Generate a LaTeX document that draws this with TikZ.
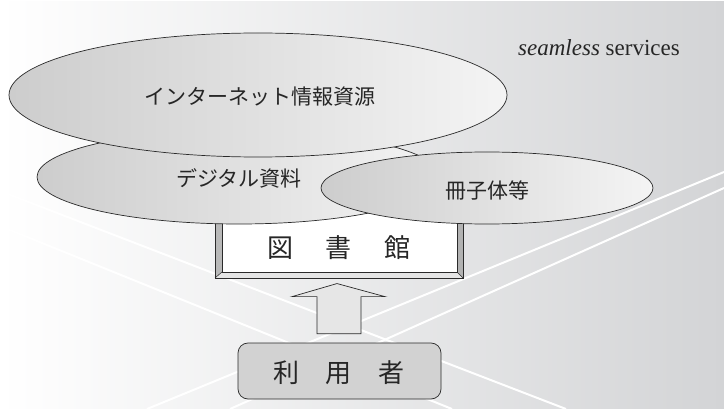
\documentclass[tikz,border=0pt]{standalone}
\usepackage{fontspec}
\setmainfont{Liberation Serif}
\newfontfamily\jpfont{Noto Sans CJK JP}
\usetikzlibrary{shapes.geometric,calc}
\definecolor{bgR}{HTML}{D3D4D6}
\definecolor{ellL}{HTML}{CDCDCD}
\definecolor{ellR}{HTML}{F4F4F4}
\definecolor{edge}{HTML}{2A2A2A}
\definecolor{userfill}{HTML}{D2D2D2}
\definecolor{arrowfill}{HTML}{E6E6E6}
\tikzset{
  bgline/.style={white, line width=2pt},
  bubble/.style={ellipse, draw=edge, line width=0.7pt, left color=ellL, right color=ellR, inner sep=0pt},
  jptext/.style={font=\jpfont\fontsize{21}{21}\selectfont, text=black!85},
  bigjp/.style={font=\jpfont\fontsize{26}{26}\selectfont, text=black!85},
  userbox/.style={draw=edge, line width=0.7pt, fill=userfill, rounded corners=10pt, minimum width=203pt, minimum height=56pt, inner sep=0pt},
  blockarrow/.style={draw=edge, line width=0.7pt, fill=arrowfill},
}
\begin{document}
\begin{tikzpicture}[x=1pt,y=-1pt]
\useasboundingbox (0,0) rectangle (724,409);
\fill[white] (0,0) rectangle (724,409);
\shade[left color=white, right color=bgR] (0,2) rectangle (724,409);
% background white lines
\draw[bgline] (0,191) -- (566,409);
\draw[bgline] (0,226) -- (452,409);
\draw[bgline] (147,409) -- (724,172);
\draw[bgline] (230,409) -- (724,188);
% library frame
\fill[gray!55] (215,195) -- (222,195) -- (222,272) -- (215,278) -- cycle;
\fill[gray!20] (215,278) -- (222,272) -- (457,272) -- (463,278) -- cycle;
\fill[gray!60] (457,195) -- (463,195) -- (463,278) -- (457,272) -- cycle;
\fill[white] (222,195) rectangle (457,272);
\draw[edge, line width=0.7pt] (215,195) -- (215,278) -- (463,278) -- (463,195);
\draw[edge, line width=0.5pt] (222,195) -- (222,272) -- (457,272) -- (457,195);
\draw[edge, line width=0.5pt] (215,278) -- (222,272) (463,278) -- (457,272);
\node[bigjp] (lib) at (339,248) {図\hspace{33pt}書\hspace{33pt}館};
% ellipses
\node[bubble, minimum width=404pt, minimum height=94pt] (digi) at (239,177) {};
\node[jptext] (digit) at (239,178) {デジタル資料};
\node[bubble, minimum width=498pt, minimum height=124pt] (net) at (258,95) {};
\node[jptext] (nett) at (260,97) {インターネット情報資源};
\node[bubble, minimum width=332pt, minimum height=72pt] (book) at (487,188) {};
\node[jptext] (bookt) at (487,190) {冊子体等};
% user
\node[userbox] (user) at (339.5,371) {};
\node[bigjp] (usert) at (339,373) {利\hspace{27pt}用\hspace{27pt}者};
% block arrow from user to library
\draw[blockarrow] ($(user.north)+(-22.5,-9)$) -- ++(0,-37) -- ++(-25,0)
  -- ($(lib.south)+(-2,20)$) -- ($(user.north)+(45.5,-46)$) -- ++(-24,0) -- ++(0,37) -- cycle;
% caption
\node[font=\fontsize{23}{23}\selectfont, text=black!85] (cap) at (599,48) {\textit{seamless} services};
\end{tikzpicture}
\end{document}
